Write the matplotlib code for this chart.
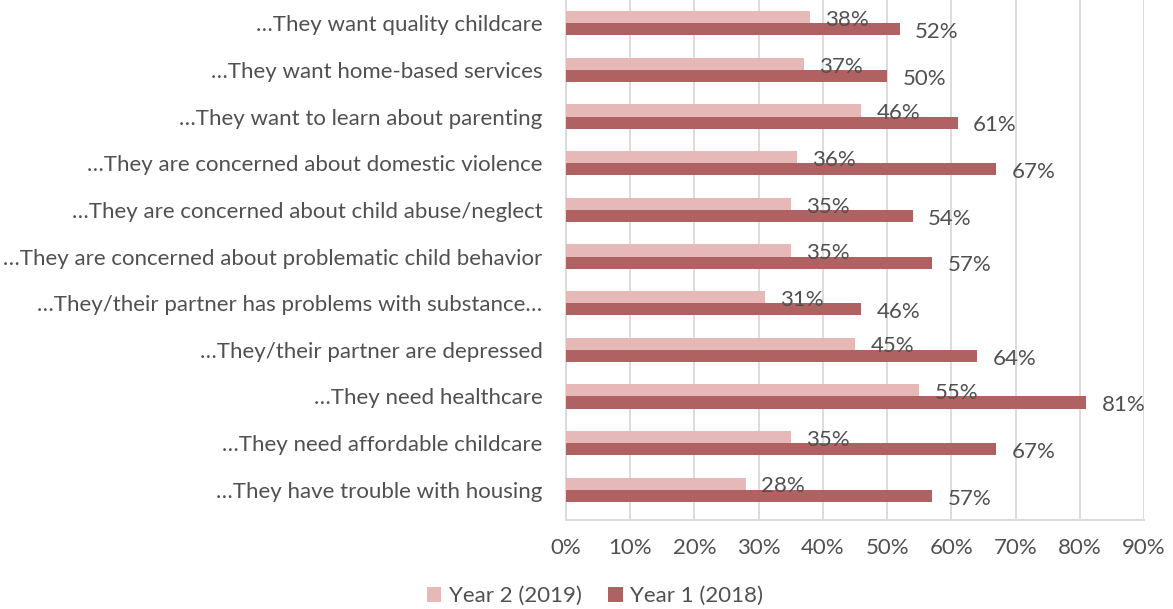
import matplotlib
matplotlib.use("Agg")
import matplotlib.pyplot as plt
import numpy as np
from matplotlib.ticker import MultipleLocator, PercentFormatter

categories = [
    "…They want quality childcare",
    "…They want home-based services",
    "…They want to learn about parenting",
    "…They are concerned about domestic violence",
    "…They are concerned about child abuse/neglect",
    "…They are concerned about problematic child behavior",
    "…They/their partner has problems with substance…",
    "…They/their partner are depressed",
    "…They need healthcare",
    "…They need affordable childcare",
    "…They have trouble with housing",
]
year2_2019 = [38, 37, 46, 36, 35, 35, 31, 45, 55, 35, 28]
year1_2018 = [52, 50, 61, 67, 54, 57, 46, 64, 81, 67, 57]
series_names = ["Year 2 (2019)", "Year 1 (2018)"]

light = "#E6B8B7"
dark = "#B06262"
text_col = "#505050"
fs = 16

plt.rcParams["font.family"] = ["Lato", "DejaVu Sans"]

fig = plt.figure(figsize=(11.73, 6.09), dpi=100)
ax = fig.add_axes([566 / 1173, 1 - 520 / 609, (1144 - 566) / 1173, 520 / 609])

y = np.arange(len(categories))
h = 0.26
b2 = ax.barh(y - h / 2, year2_2019, height=h, color=light, label=series_names[0], zorder=3)
b1 = ax.barh(y + h / 2, year1_2018, height=h, color=dark, label=series_names[1], zorder=3)

for bars, vals in ((b2, year2_2019), (b1, year1_2018)):
    for rect, v in zip(bars, vals):
        ax.annotate(f"{v}%", (v, rect.get_y() + rect.get_height() / 2),
                    xytext=(11, -2), textcoords="offset points",
                    ha="left", va="center", fontsize=fs, color=text_col, zorder=4)

ax.set_xlim(0, 90)
ax.set_ylim(len(categories) - 0.5 + 0.15, -0.5)
ax.xaxis.set_major_locator(MultipleLocator(10))
ax.xaxis.set_major_formatter(PercentFormatter(decimals=0))
ax.set_yticks(y)
ax.set_yticklabels(categories)
ax.tick_params(axis="y", length=0, pad=17, labelsize=fs, labelcolor=text_col)
ax.tick_params(axis="x", length=0, pad=13, labelsize=fs, labelcolor=text_col)
ax.grid(axis="x", color="#D9D9D9", linewidth=1.3, zorder=0)
for side in ("top", "right"):
    ax.spines[side].set_visible(False)
for side in ("left", "bottom"):
    ax.spines[side].set_color("#D9D9D9")
    ax.spines[side].set_linewidth(1.3)

fig.legend(handles=[b2, b1], labels=series_names, loc="center",
           bbox_to_anchor=(595 / 1173, 1 - 596 / 609), ncol=2, frameon=False,
           fontsize=fs, handlelength=0.65, handleheight=0.65, handletextpad=0.35,
           columnspacing=1.2, labelcolor=text_col)

fig.savefig("out.png", dpi=100)
